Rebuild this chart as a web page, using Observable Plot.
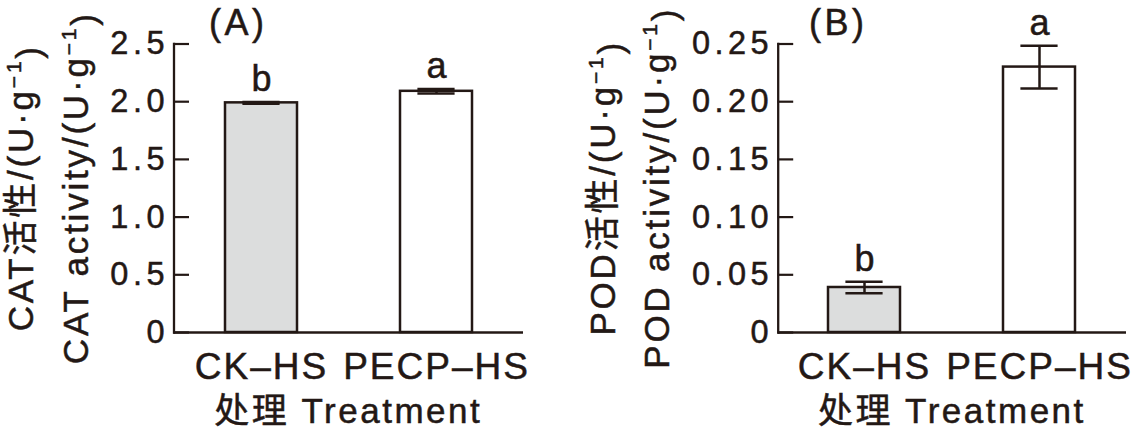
<!DOCTYPE html>
<html><head><meta charset="utf-8">
<script src="https://cdn.jsdelivr.net/npm/d3@7"></script>
<script src="https://cdn.jsdelivr.net/npm/@observablehq/plot@0.6"></script>
<style>
body{margin:0;background:#fff;}
#wrap{display:flex;width:1134px;height:433px;overflow:hidden;}
#wrap svg{display:block;flex:none;}
#wrap svg text{stroke:#231815;stroke-width:0.5px;}
g[aria-label="y-axis tick label"] text{letter-spacing:4.5px;}
g[aria-label="x-axis tick label"] text{letter-spacing:2px;}
</style></head><body><div id="wrap"></div>
<script>
// ---- data ----
const treatments = ["CK–HS", "PECP–HS"];
const catMean = [1.99, 2.09];
const catErr = [0.008, 0.02];
const catLetters = ["b", "a"];
const catTicks = [0, 0.5, 1.0, 1.5, 2.0, 2.5];
const podMean = [0.039, 0.23];
const podErr = [0.005, 0.0185];
const podLetters = ["b", "a"];
const podTicks = [0, 0.05, 0.10, 0.15, 0.20, 0.25];

const INK = "#231815";
const FONT = '"Liberation Sans", Arial, "Noto Sans CJK SC", sans-serif';

function panel(o) {
  const data = treatments.map((t, i) => ({t, m: o.mean[i], lo: o.mean[i] - o.err[i], hi: o.mean[i] + o.err[i], letter: o.letters[i]}));
  const W = 567, H = 433, mt = 43.5, mb = 101;
  const svg = Plot.plot({
    width: W, height: H, marginLeft: o.ml, marginRight: o.mr, marginTop: mt, marginBottom: mb,
    style: {fontFamily: FONT, fontSize: "33px", color: INK, background: "#fff", overflow: "visible"},
    x: {domain: treatments, paddingInner: 0.59, paddingOuter: 0.29, label: null},
    y: {domain: [0, o.ticks[o.ticks.length - 1]], label: null},
    color: {domain: treatments, range: ["#dcdddd", "#ffffff"]},
    marks: [
      Plot.barY(data, {x: "t", y: "m", fill: "t", stroke: INK, strokeWidth: 2.5}),
      Plot.ruleX(data, {x: "t", y1: "lo", y2: "hi", stroke: INK, strokeWidth: 2.5}),
      Plot.tickY(data, {x: "t", y: "lo", inset: 17.4, stroke: INK, strokeWidth: 2.5}),
      Plot.tickY(data, {x: "t", y: "hi", inset: 17.4, stroke: INK, strokeWidth: 2.5}),
      Plot.text(data, {x: "t", y: "hi", text: "letter", dy: -11, lineAnchor: "bottom", fontSize: 36, fill: INK}),
      Plot.ruleY([0], {stroke: INK, strokeWidth: 2.3}),
      Plot.frame({anchor: "left", stroke: INK, strokeWidth: 2.3}),
      Plot.axisY({ticks: o.ticks, tickFormat: o.fmt, tickSize: -15.5, tickPadding: 20.5, strokeWidth: 2.2, stroke: INK, fill: INK, fontSize: 32.5, label: null}),
      Plot.axisX({tickSize: 0, tickPadding: 20, fontSize: 37, fill: INK, label: null})
    ]
  });
  const s = d3.select(svg);
  const cy = (mt + (H - mb)) / 2;
  const ylab = (x, pre) => {
    const t = s.append("text")
      .attr("transform", `translate(${x},${cy}) rotate(-90)`)
      .attr("text-anchor", "middle").attr("fill", INK)
      .attr("font-family", FONT).attr("font-size", 35).style("letter-spacing", "2.8px");
    t.append("tspan").text(pre + "/(U·g");
    t.append("tspan").attr("dy", "-0.55em").attr("font-size", 21).text("−1");
    t.append("tspan").attr("dy", "0.55em").text(")");
  };
  ylab(o.l1x, o.zh);
  ylab(o.l2x, o.en);
  s.append("text").attr("x", o.tagX).attr("y", 35).attr("fill", INK).attr("text-anchor", "start")
    .attr("font-family", FONT).attr("font-size", 36).style("letter-spacing", "3.5px").text(o.tag);
  const cx = o.ml + (W - o.ml - o.mr) / 2;
  s.append("text").attr("x", cx).attr("y", 423).attr("text-anchor", "middle").attr("fill", INK)
    .attr("font-family", FONT).attr("font-size", 35).style("letter-spacing", "2.5px").text("处理 Treatment");
  return svg;
}

const wrap = document.getElementById("wrap");
wrap.appendChild(panel({
  mean: catMean, err: catErr, letters: catLetters, ticks: catTicks,
  fmt: d => d === 0 ? "0" : d.toFixed(1), ml: 173.5, mr: 44,
  zh: "CAT活性", en: "CAT activity", l1x: 33, l2x: 88, tag: "(A)", tagX: 209
}));
wrap.appendChild(panel({
  mean: podMean, err: podErr, letters: podLetters, ticks: podTicks,
  fmt: d => d === 0 ? "0" : d.toFixed(2), ml: 210.7, mr: 8,
  zh: "POD活性", en: "POD activity", l1x: 48, l2x: 102, tag: "(B)", tagX: 242
}));
</script></body></html>
